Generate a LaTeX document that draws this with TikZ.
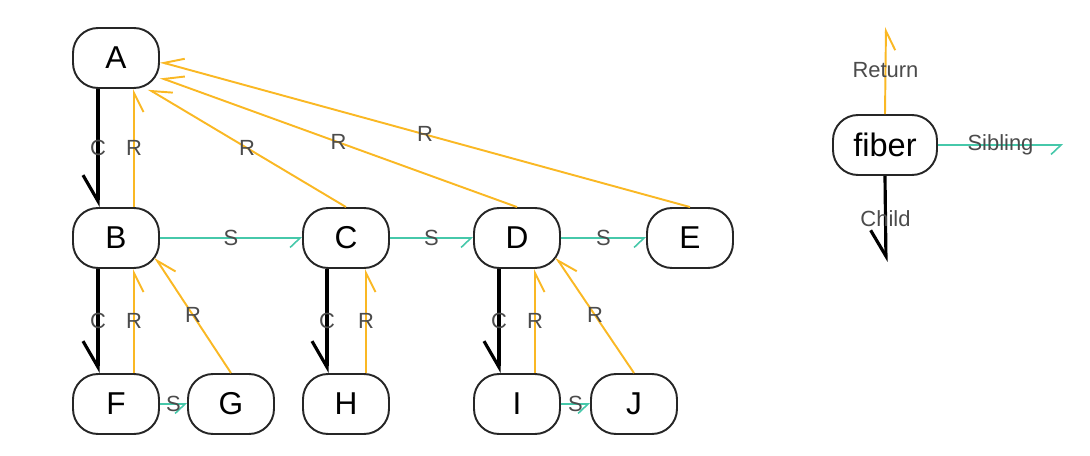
\documentclass[tikz,border=0pt]{standalone}
\usepackage{fontspec}
\setmainfont{Liberation Sans}
\usetikzlibrary{arrows.meta}
\definecolor{retorange}{RGB}{250,184,36}
\definecolor{sibteal}{RGB}{70,200,170}
\definecolor{lblgray}{RGB}{75,75,75}

\begin{document}
\begin{tikzpicture}[
	x=0.02cm, y=-0.02cm,
	fib/.style={ draw=black!85, line width=1.1pt, rounded corners=0.5cm, minimum width=1.72cm, minimum height=1.2cm, inner sep=0pt, font=\fontsize{18}{19}\selectfont },
	child/.style={ line width=1.8pt, -{Straight Barb[harpoon,swap,length=0.52cm,width=0.6cm]} },
	ret/.style={ retorange, line width=1.1pt, -{Straight Barb[harpoon,swap,length=0.38cm,width=0.38cm]} },
	sib/.style={ sibteal, line width=0.9pt, -{Straight Barb[harpoon,swap,length=0.2cm,width=0.38cm]} },
	lbl/.style={ lblgray, font=\fontsize{12.5}{13}\selectfont, inner sep=0pt }
]
\useasboundingbox (0,0) rectangle (1090,456);

% tree
\node at (116,58) (A) [fib] {A};
\node at (116,238) (B) [fib] {B};
\node at (346,238) (C) [fib] {C};
\node at (517,238) (D) [fib] {D};
\node at (690,238) (E) [fib] {E};
\node at (116,404) (F) [fib] {F};
\node at (231,404) (G) [fib] {G};
\node at (346,404) (H) [fib] {H};
\node at (517,404) (I) [fib] {I};
\node at (634,404) (J) [fib] {J};

\draw[child] ([xshift=-0.36cm]A.south) -- node[lbl] {C} ([xshift=-0.36cm]B.north);
\draw[ret] ([xshift=0.36cm]B.north) -- node[lbl] {R} ([xshift=0.36cm]A.south);
\draw[ret] (C.north) -- node[lbl] {R} (A.-44);
\draw[ret] (D.north) -- node[lbl] {R} (A.-24);
\draw[ret] (E.north) -- node[lbl] {R} (A.-5);

\draw[sib] (B.east) -- node[lbl] {S} (C.west);
\draw[sib] (C.east) -- node[lbl] {S} (D.west);
\draw[sib] (D.east) -- node[lbl] {S} (E.west);

\draw[child] ([xshift=-0.36cm]B.south) -- node[lbl] {C} ([xshift=-0.36cm]F.north);
\draw[ret] ([xshift=0.36cm]F.north) -- node[lbl] {R} ([xshift=0.36cm]B.south);
\draw[ret] (G.north) -- node[lbl] {R} ([xshift=-0.1cm,yshift=0.12cm]B.-30);
\draw[sib] (F.east) -- node[lbl] {S} (G.west);

\draw[child] ([xshift=-0.38cm]C.south) -- node[lbl] {C} ([xshift=-0.38cm]H.north);
\draw[ret] ([xshift=0.4cm]H.north) -- node[lbl] {R} ([xshift=0.4cm]C.south);

\draw[child] ([xshift=-0.36cm]D.south) -- node[lbl] {C} ([xshift=-0.36cm]I.north);
\draw[ret] ([xshift=0.36cm]I.north) -- node[lbl] {R} ([xshift=0.36cm]D.south);
\draw[ret] (J.north) -- node[lbl] {R} ([xshift=-0.1cm,yshift=0.12cm]D.-30);
\draw[sib] (I.east) -- node[lbl] {S} (J.west);

% legend
\node at (885,145) (fiber) [fib,minimum width=2.08cm,font=\fontsize{18.5}{19}\selectfont] {fiber};
\coordinate (rtop) at (886,27);
\coordinate (sright) at (1063,145);
\coordinate (cbot) at (886,262);
\draw[ret] (fiber.north) -- node[lbl] {Return} (rtop);
\draw[sib] (fiber.east) -- node[lbl] {Sibling} (sright);
\draw[child] (fiber.south) -- node[lbl] {Child} (cbot);

\end{tikzpicture}
\end{document}
